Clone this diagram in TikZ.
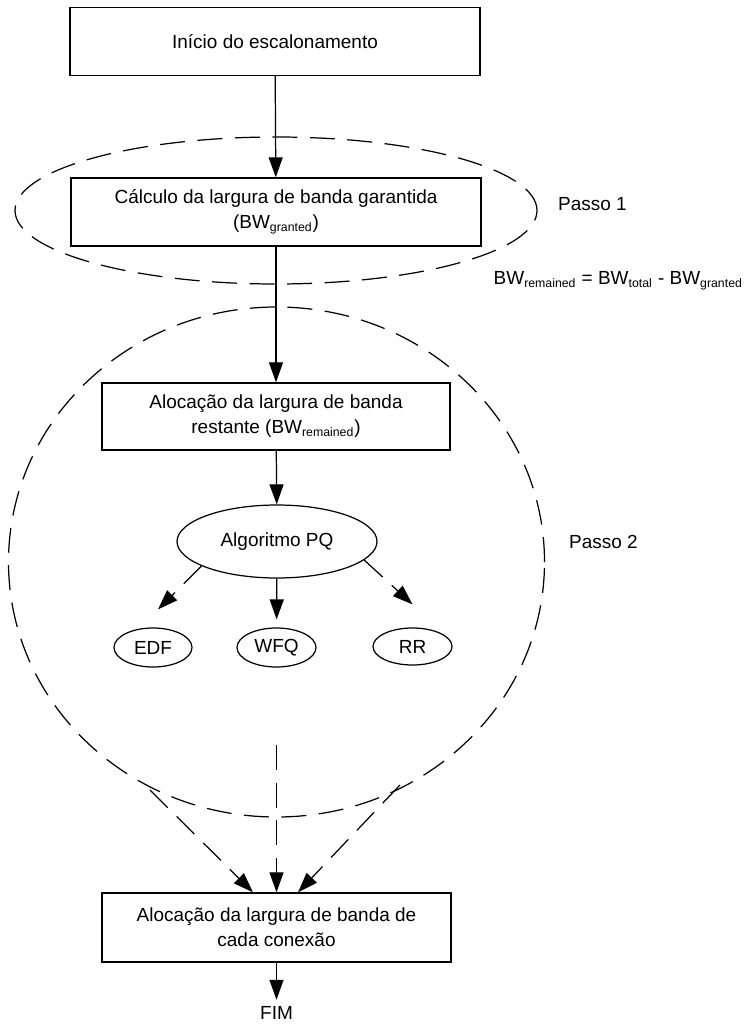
\documentclass[tikz,border=0pt]{standalone}
\usepackage{fontspec}
\setmainfont{Liberation Sans}
\usepackage{tikz}
\usetikzlibrary{arrows.meta,positioning,calc,shapes.geometric}
\newcommand{\bwsub}[1]{\textsubscript{\fontsize{7}{8}\selectfont #1}}

\begin{document}
\begin{tikzpicture}[
  txt/.style={font=\fontsize{10.8}{14.2}\selectfont},
  blk/.style={txt,draw,line width=0.8pt,align=center,minimum width=8.2cm,minimum height=1.36cm,inner sep=2pt},
  elp/.style={txt,draw,ellipse,line width=0.7pt,inner sep=0pt},
  arr/.style={-{Triangle[length=0.4cm,width=0.28cm]},line width=0.7pt},
  darr/.style={arr,dash pattern=on 0.5cm off 0.25cm},
  grp/.style={draw,line width=0.7pt,dash pattern=on 0.5cm off 0.25cm}]
\useasboundingbox (0,0) rectangle (14.96,-20.5);
\node[blk] (ini) at (5.5,-0.83) {Início do escalonamento};
\node[blk] (calc) at (5.52,-4.24) {Cálculo da largura de banda garantida\\(BW\bwsub{granted})};
\node[blk,minimum width=6.96cm,minimum height=1.34cm] (rest) at (5.52,-8.33) {Alocação da largura de banda\\restante (BW\bwsub{remained})};
\node[elp,minimum width=4cm,minimum height=1.46cm] (pq) at (5.54,-10.83) {Algoritmo PQ};
\node[elp,minimum width=1.56cm,minimum height=0.78cm] (edf) at (3.06,-12.95) {EDF};
\node[elp,minimum width=1.58cm,minimum height=0.78cm] (wfq) at (5.53,-12.95) {WFQ};
\node[elp,minimum width=1.58cm,minimum height=0.74cm] (rr) at (8.25,-12.93) {RR};
\node[blk,minimum width=6.98cm,minimum height=1.38cm] (cnx) at (5.53,-18.55) {Alocação da largura de banda de\\cada conexão};
\node[txt] (fim) at (5.53,-20.25) {FIM};
\node[txt,anchor=west] (p1) at (11.04,-4.08) {Passo 1};
\node[txt,anchor=west] (bw) at (9.75,-5.62) {BW\bwsub{remained} = BW\bwsub{total} - BW\bwsub{granted}};
\node[txt,anchor=west] (p2) at (11.26,-10.84) {Passo 2};
% steps
\draw[grp] (5.52,-4.21) ellipse (5.22cm and 1.47cm);
\draw[grp] (5.53,-11.24) ellipse (5.36cm and 5.1cm);
\draw[arr] (ini)--(calc); \draw[arr] (calc)--(rest); \draw[arr] (rest)--(pq);
\draw[arr,shorten >=0.16cm] (pq)--(wfq);
\draw[darr] (pq.198)--($(edf.north)+(0.1,0.36)$);
\draw[darr] (pq.348)--($(rr.north)+(0,0.46)$);
\coordinate (cl) at (3.0,-15.8);
\coordinate (cm) at (5.53,-14.9);
\coordinate (cr) at (8.0,-15.7);
\foreach \a/\b in {cl/-0.47,cm/0,cr/0.43} \draw[darr] (\a)--([xshift=\b cm]cnx.north);
\draw[arr] (cnx)--(fim);
\end{tikzpicture}
\end{document}
